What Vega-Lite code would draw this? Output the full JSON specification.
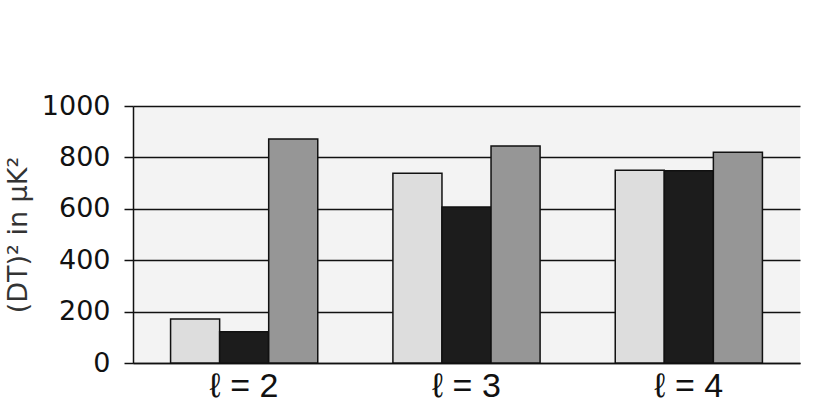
{
  "$schema": "https://vega.github.io/schema/vega-lite/v6.json",
  "autosize": "none",
  "padding": {"left": 133, "top": 106, "right": 30, "bottom": 50},
  "width": 667,
  "height": 257,
  "background": "white",
  "config": {
    "view": {"fill": "#f3f3f3", "stroke": null},
    "font": "Liberation Sans"
  },
  "data": {
    "values": [
      {"l": "ℓ = 2", "series": "A", "value": 171},
      {"l": "ℓ = 2", "series": "B", "value": 122},
      {"l": "ℓ = 2", "series": "C", "value": 872},
      {"l": "ℓ = 3", "series": "A", "value": 738},
      {"l": "ℓ = 3", "series": "B", "value": 607},
      {"l": "ℓ = 3", "series": "C", "value": 844},
      {"l": "ℓ = 4", "series": "A", "value": 750},
      {"l": "ℓ = 4", "series": "B", "value": 748},
      {"l": "ℓ = 4", "series": "C", "value": 820}
    ]
  },
  "mark": {"type": "bar", "stroke": "#111111", "strokeWidth": 1.5},
  "encoding": {
    "x": {
      "field": "l", "type": "nominal", "sort": null,
      "scale": {"paddingInner": 0.338, "paddingOuter": 0.169},
      "axis": {
        "title": null, "labelAngle": 0, "labelFontSize": 34, "labelColor": "#111111",
        "labelFont": "Liberation Sans",
        "ticks": false, "domain": true, "domainColor": "#111111", "domainWidth": 1.5,
        "labelPadding": 6
      }
    },
    "xOffset": {"field": "series", "type": "nominal", "scale": {"paddingInner": 0, "paddingOuter": 0}},
    "y": {
      "field": "value", "type": "quantitative",
      "scale": {"domain": [0, 1000], "nice": false},
      "axis": {
        "title": "(DT)² in μK²", "titleFontSize": 27, "titleFontWeight": "normal", "titleColor": "#333333",
        "titleFont": "DejaVu Sans",
        "titlePadding": 9,
        "values": [0, 200, 400, 600, 800, 1000], "format": "d",
        "labelFont": "DejaVu Sans",
        "labelFontSize": 27, "labelColor": "#111111", "labelPadding": 14,
        "tickSize": 9, "tickColor": "#111111", "tickWidth": 1.5,
        "grid": true, "gridColor": "#111111", "gridWidth": 1.5, "gridOpacity": 1,
        "domain": true, "domainColor": "#111111", "domainWidth": 1.5
      }
    },
    "fill": {
      "field": "series", "type": "nominal", "legend": null,
      "scale": {"domain": ["A", "B", "C"], "range": ["#dddddd", "#1c1c1c", "#969696"]}
    }
  }
}
